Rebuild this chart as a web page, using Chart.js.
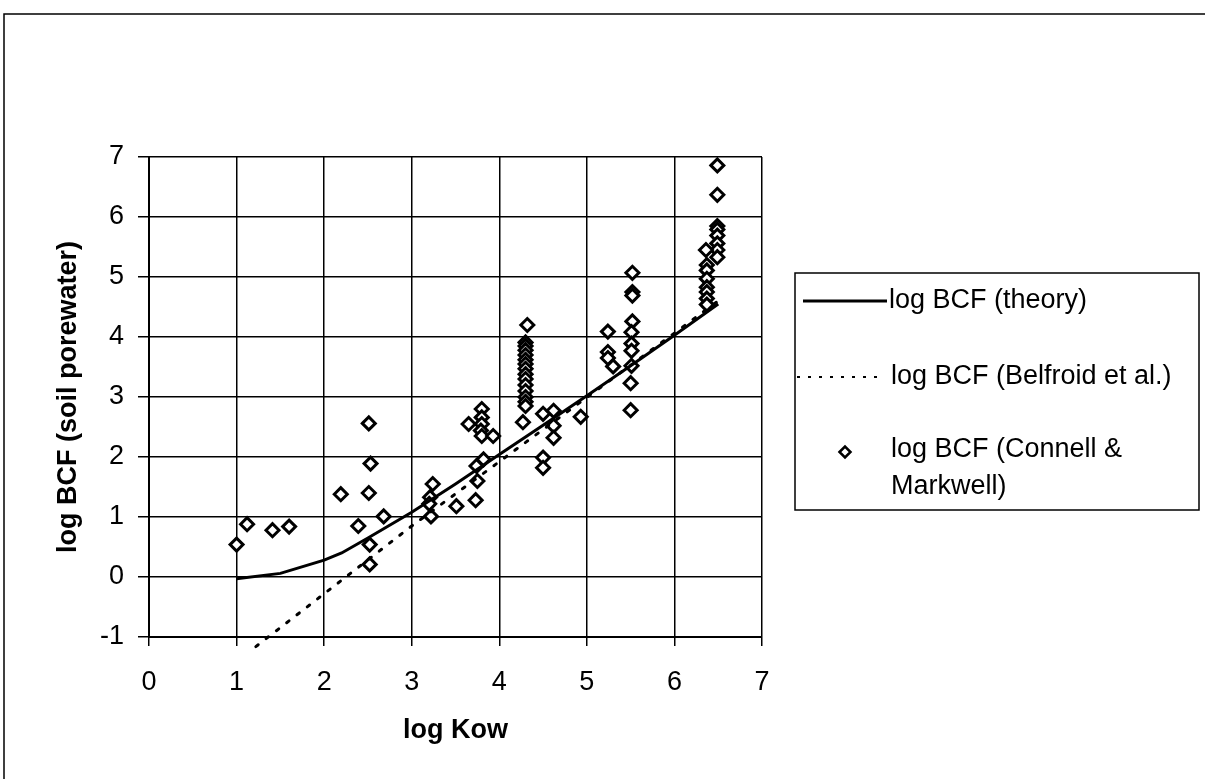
<!DOCTYPE html>
<html>
<head>
<meta charset="utf-8">
<script src="https://cdn.jsdelivr.net/npm/chart.js@4"></script>
<style>
  html, body { margin: 0; padding: 0; background: #fff; }
  #wrap { width: 1205px; height: 779px; }
</style>
</head>
<body>
<div id="wrap"><canvas id="bcfChart" width="1205" height="779"></canvas></div>
<script>
// observed values (Connell & Markwell)
const kowObs = [1.0, 1.12, 1.41, 1.6, 2.19, 2.51, 2.53, 2.51, 2.39, 2.68, 2.52, 2.52,
  3.24, 3.21, 3.2, 3.22, 3.51, 3.73, 3.75, 3.74, 3.82, 3.65,
  3.8, 3.8, 3.8, 3.79, 3.8, 3.93,
  4.32, 4.3, 4.3, 4.3, 4.3, 4.3, 4.3, 4.3, 4.3, 4.3, 4.3, 4.3, 4.3, 4.3, 4.3,
  4.27, 4.5, 4.62, 4.62, 4.62, 4.5, 4.5, 4.93,
  5.24, 5.24, 5.24, 5.3,
  5.52, 5.52, 5.52, 5.52, 5.51, 5.51, 5.51, 5.51, 5.5, 5.5,
  6.49, 6.49, 6.49, 6.49, 6.49, 6.49, 6.49, 6.49,
  6.36, 6.37, 6.37, 6.37, 6.37, 6.37, 6.37, 6.37];
const bcfObs = [0.54, 0.88, 0.78, 0.84, 1.38, 2.56, 1.89, 1.40, 0.85, 1.01, 0.54, 0.21,
  1.55, 1.33, 1.22, 1.01, 1.18, 1.28, 1.6, 1.85, 1.96, 2.55,
  2.80, 2.66, 2.55, 2.44, 2.35, 2.35,
  4.2, 3.91, 3.85, 3.78, 3.7, 3.62, 3.55, 3.47, 3.38, 3.3, 3.2, 3.1, 3.0, 2.92, 2.85,
  2.58, 2.72, 2.77, 2.52, 2.32, 1.99, 1.82, 2.67,
  4.09, 3.75, 3.65, 3.51,
  5.07, 4.75, 4.69, 4.26, 4.08, 3.89, 3.77, 3.52, 3.23, 2.78,
  6.86, 6.37, 5.85, 5.79, 5.69, 5.56, 5.45, 5.33,
  5.45, 5.2, 5.11, 4.97, 4.83, 4.75, 4.64, 4.54];

// theory curve
const theoryKow = [1.0, 1.5, 2.0, 2.2, 2.5, 3.0, 3.5, 4.0, 4.5, 5.0, 5.5, 6.0, 6.5];
const theoryBcf = [-0.03, 0.06, 0.28, 0.40, 0.65, 1.08, 1.55, 2.04, 2.53, 3.02, 3.52, 4.03, 4.55];

// Belfroid et al. regression line
const belfroidKow = [1.22, 3.0, 6.48];
const belfroidBcf = [-1.16, 0.85, 4.58];

const xTicks = [0, 1, 2, 3, 4, 5, 6, 7];
const yTicks = [-1, 0, 1, 2, 3, 4, 5, 6, 7];

const labels = ['log BCF (theory)', 'log BCF (Belfroid et al.)', ['log BCF (Connell &', 'Markwell)']];

const FONT = 'Liberation Sans, Arial, sans-serif';

function pts(xs, ys) {
  return xs.map((x, i) => ({ x: x, y: ys[i] }));
}

const framePlugin = {
  id: 'frame',
  beforeDraw(chart) {
    const ctx = chart.ctx;
    ctx.save();
    ctx.fillStyle = '#fff';
    ctx.fillRect(0, 0, chart.width, chart.height);
    ctx.restore();
  },
  afterDraw(chart) {
    const ctx = chart.ctx;
    const ds = chart.data.datasets;
    ctx.save();
    // outer frame
    ctx.strokeStyle = '#000';
    ctx.lineWidth = 1.5;
    ctx.beginPath();
    ctx.moveTo(4, 779);
    ctx.lineTo(4, 14);
    ctx.lineTo(1205, 14);
    ctx.stroke();

    // legend box
    const bx = 795, by = 273, bw = 404, bh = 237;
    ctx.lineWidth = 1.5;
    ctx.strokeRect(bx, by, bw, bh);

    ctx.font = '27px ' + FONT;
    ctx.fillStyle = '#000';
    ctx.textBaseline = 'middle';
    ctx.textAlign = 'left';

    // theory
    ctx.lineWidth = 3;
    ctx.setLineDash([]);
    ctx.beginPath();
    ctx.moveTo(803, 301);
    ctx.lineTo(887, 301);
    ctx.stroke();
    ctx.fillText(ds[0].label, 889, 301);

    // Belfroid
    ctx.lineWidth = 2;
    ctx.setLineDash([3, 8]);
    ctx.beginPath();
    ctx.moveTo(797, 377);
    ctx.lineTo(884, 377);
    ctx.stroke();
    ctx.setLineDash([]);
    ctx.fillText(ds[1].label, 891, 377);

    // Connell & Markwell
    ctx.lineWidth = 2.5;
    ctx.fillStyle = '#fff';
    ctx.beginPath();
    ctx.moveTo(845 - 5.5, 452);
    ctx.lineTo(845, 452 - 5.5);
    ctx.lineTo(845 + 5.5, 452);
    ctx.lineTo(845, 452 + 5.5);
    ctx.closePath();
    ctx.fill();
    ctx.stroke();
    ctx.fillStyle = '#000';
    const l3 = labels[2];
    ctx.fillText(l3[0], 891, 450);
    ctx.fillText(l3[1], 891, 487);
    ctx.restore();
  }
};

new Chart(document.getElementById('bcfChart'), {
  type: 'scatter',
  data: {
    datasets: [
      {
        type: 'line',
        label: labels[0],
        data: pts(theoryKow, theoryBcf),
        borderColor: '#000',
        borderWidth: 3,
        pointRadius: 0,
        fill: false,
        tension: 0
      },
      {
        type: 'line',
        label: labels[1],
        data: pts(belfroidKow, belfroidBcf),
        borderColor: '#000',
        borderWidth: 3,
        borderDash: [3, 10],
        borderCapStyle: 'round',
        pointRadius: 0,
        fill: false,
        clip: false
      },
      {
        label: labels[2].join(' '),
        data: pts(kowObs, bcfObs),
        pointStyle: 'rectRot',
        pointRadius: 6.5,
        pointBorderWidth: 3,
        pointBorderColor: '#000',
        pointBackgroundColor: '#fff'
      }
    ]
  },
  options: {
    responsive: false,
    animation: false,
    layout: { padding: { left: 0, top: 157, right: 443, bottom: 0 } },
    plugins: {
      legend: { display: false },
      tooltip: { enabled: false }
    },
    scales: {
      x: {
        type: 'linear',
        min: 0,
        max: 7,
        afterBuildTicks(scale) { scale.ticks = xTicks.map(v => ({ value: v })); },
        afterFit(scale) { scale.height = 142; },
        border: { color: '#000', width: 2 },
        grid: { color: '#000', lineWidth: 1.5, tickLength: 9, tickColor: '#000' },
        ticks: { color: '#000', font: { family: FONT, size: 27 }, padding: 20 },
        title: {
          display: true,
          text: 'log Kow',
          color: '#000',
          font: { family: FONT, size: 27, weight: 'bold' },
          padding: { top: 0, bottom: 32 }
        }
      },
      y: {
        type: 'linear',
        min: -1,
        max: 7,
        afterBuildTicks(scale) { scale.ticks = yTicks.map(v => ({ value: v })); },
        afterFit(scale) { scale.width = 149; },
        border: { color: '#000', width: 2 },
        grid: { color: '#000', lineWidth: 1.5, tickLength: 11, tickColor: '#000' },
        ticks: { color: '#000', font: { family: FONT, size: 27 }, padding: 14 },
        title: {
          display: true,
          text: 'log BCF (soil porewater)',
          color: '#000',
          font: { family: FONT, size: 27, weight: 'bold' },
          padding: { top: 52, bottom: 0 }
        }
      }
    }
  },
  plugins: [framePlugin]
});
</script>
</body>
</html>
